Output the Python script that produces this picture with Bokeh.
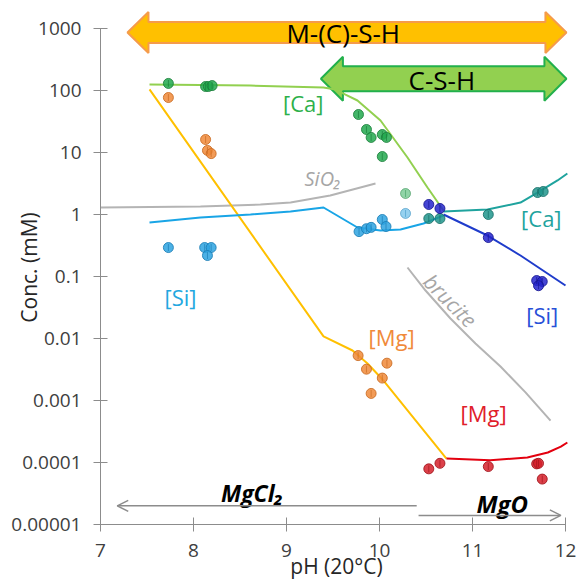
import numpy as np
from bokeh.plotting import figure
from bokeh.models import Range1d, FixedTicker, Arrow, OpenHead
from bokeh.core.properties import value
from bokeh.embed import file_html
from bokeh.resources import INLINE

# ---------------- data ----------------
# model lines (pH, conc mM)
ca_mgcl2_ph = [7.527, 8.613, 9.398, 9.527, 9.634, 9.763, 10.011, 10.301, 10.516, 10.688]
ca_mgcl2_c = [125.0, 120.0, 112.0, 104.0, 86.0, 69.0, 32.8, 8.3, 2.73, 1.16]

mg_mgcl2_ph = [7.527, 9.398, 9.710, 9.871, 10.043, 10.720]
mg_mgcl2_c = [104.0, 0.0108, 0.0064, 0.00395, 0.0021, 0.000116]

si_mgcl2_ph = [7.527, 8.075, 8.613, 9.043, 9.398, 9.763, 10.011, 10.226, 10.473, 10.688]
si_mgcl2_c = [0.743, 0.895, 1.0, 1.118, 1.297, 0.617, 0.552, 0.573, 0.716, 0.963]

ca_mgo_ph = [10.688, 11.161, 11.516, 11.699, 11.914, 12.02]
ca_mgo_c = [1.12, 1.20, 1.56, 2.26, 3.54, 4.58]

si_mgo_ph = [10.688, 11.161, 11.516, 12.0]
si_mgo_c = [1.0, 0.458, 0.218, 0.0715]

mg_mgo_ph = [10.72, 11.19, 11.59, 11.81, 11.95, 12.02]
mg_mgo_c = [1.16e-4, 1.09e-4, 1.2e-4, 1.45e-4, 1.8e-4, 2.1e-4]

sio2_ph = [7.0, 8.075, 8.72, 9.043, 9.47, 9.957]
sio2_c = [1.297, 1.346, 1.45, 1.56, 2.02, 3.16]

brucite_ph = [10.301, 10.495, 10.763, 11.032, 11.301, 11.570, 11.839]
brucite_c = [0.1397, 0.0594, 0.0210, 0.0083, 0.00353, 0.00135, 0.000475]

# measured points
ca_pts_ph = [7.73, 8.13, 8.16, 8.20, 9.774, 9.86, 9.91, 10.03, 10.075, 10.03]
ca_pts_c = [130, 116, 116, 120, 41, 23.5, 17.5, 19.5, 17.5, 8.6]
ca_faint_ph = [10.28]
ca_faint_c = [2.18]

mg_pts_ph = [7.73, 8.13, 8.15, 8.19, 9.77, 10.08, 9.86, 10.03, 9.91]
mg_pts_c = [77, 16.2, 10.8, 9.6, 0.0053, 0.0040, 0.0032, 0.0023, 0.0013]

si_pts_ph = [7.73, 8.12, 8.19, 8.15, 9.78, 9.86, 9.91, 10.03, 10.07]
si_pts_c = [0.293, 0.293, 0.293, 0.218, 0.53, 0.59, 0.62, 0.83, 0.64]
si_faint_ph = [10.28]
si_faint_c = [1.04]

ca2_pts_ph = [10.53, 10.65, 11.17, 11.70, 11.76]
ca2_pts_c = [0.86, 0.86, 1.0, 2.26, 2.35]

si2_pts_ph = [10.53, 10.65, 11.17, 11.69, 11.75, 11.71]
si2_pts_c = [1.45, 1.25, 0.425, 0.086, 0.083, 0.071]

mg2_pts_ph = [10.53, 10.65, 11.17, 11.69, 11.71, 11.75]
mg2_pts_c = [7.9e-5, 9.7e-5, 8.6e-5, 9.5e-5, 9.7e-5, 5.4e-5]

# phase ranges (pH)
mcsh_range = [7.29, 12.01]
csh_range = [9.37, 12.01]
mgcl2_range = [10.40, 7.18]
mgo_range = [10.42, 11.95]

x_ticks = [7, 8, 9, 10, 11, 12]
y_ticks = [1e-5, 1e-4, 1e-3, 1e-2, 1e-1, 1, 10, 100, 1000]
y_tick_labels = ["0.00001", "0.0001", "0.001", "0.01", "0.1", "1", "10", "100", "1000"]

# ---------------- figure ----------------
PX_PH = 93.0
PX_DEC = 62.0
FONT = "Open Sans"
W, H = 578, 585
BL, BR, BT, BB = 100, 6, 10, 61
FW, FH = W - BL - BR, H - BT - BB

p = figure(width=W, height=H, y_axis_type="log",
           x_range=Range1d(7, 7 + FW / PX_PH),
           y_range=Range1d(1e-5, 10 ** (FH / PX_DEC - 5)),
           output_backend="svg", toolbar_location=None,
           min_border_left=BL, min_border_right=BR, min_border_top=BT, min_border_bottom=BB)
p.grid.visible = False
p.outline_line_color = None
p.background_fill_color = "white"
p.border_fill_color = "white"

AX = "#8C8C8C"
for ax in (p.xaxis[0], p.yaxis[0]):
    ax.axis_line_color = AX
    ax.major_tick_line_color = AX
    ax.major_tick_in = 7
    ax.major_tick_out = 7
    ax.minor_tick_line_color = None
    ax.major_label_text_font = FONT
    ax.major_label_text_font_size = "19px"
    ax.major_label_text_color = "#404040"
    ax.axis_label_text_font = FONT
    ax.axis_label_text_font_style = "normal"
    ax.axis_label_text_color = "#262626"
p.xaxis.ticker = FixedTicker(ticks=x_ticks, minor_ticks=[])
p.xaxis.bounds = (7, 12)
p.xaxis.major_label_standoff = 12
p.xaxis.axis_label = "pH (20°C)"
p.xaxis.axis_label_text_font_size = "21px"
p.xaxis.axis_label_standoff = -8
p.yaxis.ticker = FixedTicker(ticks=y_ticks, minor_ticks=[])
p.yaxis.bounds = (1e-5, 1000)
p.yaxis.major_label_standoff = 12
p.yaxis.major_label_overrides = {t: l for t, l in zip(y_ticks, y_tick_labels)}
p.yaxis.axis_label = "Conc. (mM)"
p.yaxis.axis_label_text_font_size = "21px"
p.yaxis.axis_label_standoff = -35


def harrow(x0, x1, yc, body_px, head_px, head_len_px):
    dx = head_len_px / PX_PH
    yb = body_px / 2 / PX_DEC
    yh = head_px / 2 / PX_DEC
    ly = np.log10(yc)
    xs = [x0, x0 + dx, x0 + dx, x1 - dx, x1 - dx, x1, x1 - dx, x1 - dx, x0 + dx, x0 + dx]
    ys = [ly, ly + yh, ly + yb, ly + yb, ly + yh, ly, ly - yh, ly - yb, ly - yb, ly - yh]
    return xs, [10 ** y for y in ys]


xs, ys = harrow(mcsh_range[0], mcsh_range[1], 861, 21, 41, 21)
p.patch(xs, ys, fill_color="#FFC000", line_color="#F59B4B", line_width=2)
xs, ys = harrow(csh_range[0], csh_range[1], 155, 25, 44, 22)
p.patch(xs, ys, fill_color="#92D050", line_color="#22B04C", line_width=2)

p.text(x=[9.61], y=[861], text=["M-(C)-S-H"], text_font=value(FONT), text_font_size="26px",
       text_color="black", text_align="center", text_baseline="middle")
p.text(x=[10.67], y=[150], text=["C-S-H"], text_font=value(FONT), text_font_size="26px",
       text_color="black", text_align="center", text_baseline="middle")

# lines
LW = 2
p.line(sio2_ph, sio2_c, line_color="#B4B4B4", line_width=LW)
p.line(brucite_ph, brucite_c, line_color="#B4B4B4", line_width=LW)
p.line(ca_mgcl2_ph, ca_mgcl2_c, line_color="#92D050", line_width=LW)
p.line(mg_mgcl2_ph, mg_mgcl2_c, line_color="#FFC000", line_width=LW)
p.line(si_mgcl2_ph, si_mgcl2_c, line_color="#19A5E6", line_width=LW)
p.line(ca_mgo_ph, ca_mgo_c, line_color="#1FA39E", line_width=LW)
p.line(si_mgo_ph, si_mgo_c, line_color="#1F3CCB", line_width=LW)
p.line(mg_mgo_ph, mg_mgo_c, line_color="#E3000F", line_width=LW)


def pts(x, y, fill, line, alpha=0.85):
    p.scatter(x, y, size=10, fill_color=fill, line_color=line, fill_alpha=alpha,
              line_alpha=alpha, line_width=1)
    p.scatter(x, y, marker="dash", angle=np.pi / 2, size=7, line_color=line,
              line_alpha=alpha * 0.8, line_width=1)


pts(ca_pts_ph, ca_pts_c, "#22A94F", "#1B7F3B")
pts(ca_faint_ph, ca_faint_c, "#22A94F", "#1B7F3B", 0.5)
pts(mg_pts_ph, mg_pts_c, "#F08A3A", "#C96A20")
pts(si_pts_ph, si_pts_c, "#2DA3E0", "#1A7DB5")
pts(si_faint_ph, si_faint_c, "#2DA3E0", "#1A7DB5", 0.5)
pts(ca2_pts_ph, ca2_pts_c, "#20958C", "#176E67")
pts(si2_pts_ph, si2_pts_c, "#2424CC", "#141490")
pts(mg2_pts_ph, mg2_pts_c, "#D6202A", "#A0141B")


def lab(x, y, t, color, size="22px", style="normal", angle=0.0):
    p.text(x=[x], y=[y], text=[t], text_font=value(FONT), text_font_size=size,
           text_color=color, text_align="center", text_baseline="middle",
           text_font_style=style, angle=angle)


lab(9.18, 64, "[Ca]", "#2DB04A")
lab(11.74, 0.89, "[Ca]", "#1FA39E")
lab(7.86, 0.046, "[Si]", "#22A7E0")
lab(11.75, 0.0235, "[Si]", "#2850D8")
lab(10.13, 0.0104, "[Mg]", "#F08A3A")
lab(11.12, 6.4e-4, "[Mg]", "#E0202A")
lab(9.39, 3.8, "SiO₂", "#A6A6A6", "20px", "italic")
lab(10.76, 0.041, "brucite", "#A6A6A6", "21px", "italic", -np.pi / 4)
lab(8.63, 3.28e-5, "MgCl₂", "black", "23px", "bold italic")
lab(11.32, 2.18e-5, "MgO", "black", "24px", "bold italic")

# bottom arrows
GR = "#8C8C8C"
p.add_layout(Arrow(end=OpenHead(size=11, line_color=GR, line_width=1.5),
                   x_start=mgcl2_range[0], y_start=2.0e-5, x_end=mgcl2_range[1], y_end=2.0e-5,
                   line_color=GR, line_width=1.5))
p.add_layout(Arrow(end=OpenHead(size=11, line_color=GR, line_width=1.5),
                   x_start=mgo_range[0], y_start=1.4e-5, x_end=mgo_range[1], y_end=1.4e-5,
                   line_color=GR, line_width=1.5))

open("out.html", "w").write(file_html(p, INLINE))
